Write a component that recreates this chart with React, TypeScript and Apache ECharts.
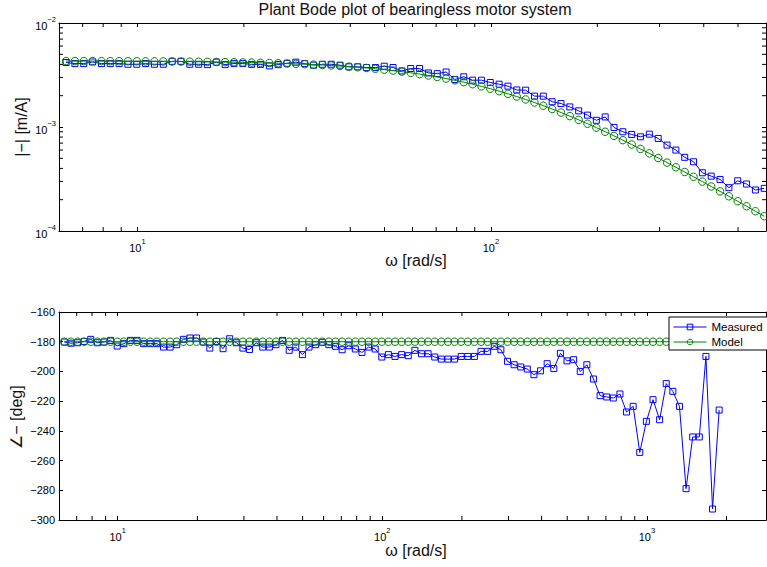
import React, { useEffect, useRef } from 'react';
import * as echarts from 'echarts';

// Frequency points [rad/s]
const omega = [
  6.283, 6.656, 7.05, 7.468, 7.91, 8.379, 8.875, 9.401, 9.958, 10.548,
  11.173, 11.835, 12.537, 13.28, 14.066, 14.9, 15.783, 16.718, 17.709, 18.758,
  19.869, 21.047, 22.293, 23.615, 25.014, 26.496, 28.066, 29.729, 31.491, 33.356,
  35.333, 37.427, 39.645, 41.993, 44.482, 47.117, 49.909, 52.867, 55.999, 59.317,
  62.832, 66.56, 70.5, 74.68, 79.1, 83.79, 88.75, 94.01, 99.58, 105.48,
  111.73, 118.35, 125.37, 132.8, 140.66, 149.0, 157.83, 167.18, 177.09, 187.58,
  198.69, 210.47, 222.93, 236.15, 250.14, 264.96, 280.66, 297.29, 314.91, 333.56,
  353.33, 374.27, 396.45, 419.93, 444.82, 471.17, 499.09, 528.67, 559.99, 593.17,
  628.3, 665.6, 705.0, 746.8, 791.0, 837.9, 887.5, 940.1, 995.8, 1054.8,
  1117.3, 1183.5, 1253.7, 1328.0, 1406.6, 1490.0, 1578.3, 1671.8, 1770.9, 1875.8,
];

// Magnitude [m/A]
const measuredMag = [
  0.00417, 0.00407, 0.00407, 0.00422, 0.00407, 0.00407, 0.00407, 0.00401, 0.00401, 0.00407,
  0.00401, 0.00401, 0.00428, 0.00428, 0.00401, 0.00401, 0.00398, 0.0042, 0.00398, 0.00407,
  0.00407, 0.004, 0.004, 0.00387, 0.00398, 0.0041, 0.0042, 0.00407, 0.00393, 0.00401,
  0.00401, 0.00393, 0.00379, 0.00379, 0.00373, 0.00373, 0.00384, 0.00373, 0.00346, 0.00365,
  0.00365, 0.00331, 0.00326, 0.00338, 0.00286, 0.00304, 0.00282, 0.00282, 0.00268, 0.00258,
  0.00247, 0.00227, 0.00226, 0.00198, 0.00198, 0.00175, 0.00168, 0.00156, 0.00143, 0.0013,
  0.00116, 0.00125, 0.00099, 0.0009, 0.000848, 0.000805, 0.000853, 0.000776, 0.00067, 0.0006,
  0.000511, 0.000463, 0.000363, 0.000337, 0.000313, 0.000261, 0.000304, 0.000283, 0.000248, 0.000257,
];
const modelMag = [
  0.004305, 0.004304, 0.004301, 0.004299, 0.004297, 0.004294, 0.004291, 0.004288, 0.004284, 0.004279,
  0.004274, 0.004269, 0.004263, 0.004256, 0.004248, 0.004239, 0.00423, 0.004219, 0.004207, 0.004193,
  0.004179, 0.004162, 0.004143, 0.004123, 0.0041, 0.004075, 0.004047, 0.004016, 0.003981, 0.003944,
  0.003902, 0.003857, 0.003807, 0.003753, 0.003693, 0.003629, 0.00356, 0.003485, 0.003405, 0.003319,
  0.003227, 0.003131, 0.003029, 0.002923, 0.002812, 0.002697, 0.002578, 0.002458, 0.002335, 0.002211,
  0.002087, 0.001963, 0.00184, 0.00172, 0.001602, 0.001488, 0.001378, 0.001272, 0.001171, 0.001075,
  0.0009852, 0.0009004, 0.0008211, 0.0007473, 0.0006787, 0.0006154, 0.0005571, 0.0005036, 0.0004546, 0.0004099,
  0.0003692, 0.0003321, 0.0002983, 0.000268, 0.0002404, 0.0002156, 0.0001932, 0.0001731, 0.0001549, 0.0001386,
];

// Phase [deg]
const measuredPhase = [
  -180.2, -181, -180.7, -179.8, -178.4, -180.7, -180.2, -179.1, -182.9, -181.3,
  -179.1, -179.1, -181.3, -181.3, -181.3, -183.6, -183.6, -182, -178.4, -177.5,
  -177.5, -180.2, -184.3, -179.8, -184.7, -178, -180.7, -184.3, -185.2, -180.7,
  -183.6, -183.6, -182, -179.1, -185.8, -183.6, -188.7, -183.6, -182, -180.4,
  -182, -183.1, -185.4, -182.7, -184.9, -187.2, -183.6, -184.9, -190.3, -188.7,
  -189.9, -188.7, -189.4, -185.8, -188.1, -188.1, -190.3, -191.7, -191.7, -191.7,
  -189.9, -189.9, -189.9, -186.5, -186.5, -183.1, -185.4, -193.2, -195.5, -197,
  -198.4, -202.2, -199.6, -194.8, -198, -187.8, -192.9, -192.1, -200, -195.5,
  -205.1, -216.3, -217.2, -217.9, -215.2, -227.3, -223.5, -254.5, -233.6, -219,
  -232.5, -208.2, -213.4, -223.5, -278.9, -244.1, -244.1, -189.9, -292.6, -226,
];
const modelPhase = [
  -180, -180, -180, -180, -180, -180, -180, -180, -180, -180,
  -180, -180, -180, -180, -180, -180, -180, -180, -180, -180,
  -180, -180, -180, -180, -180, -180, -180, -180, -180, -180,
  -180, -180, -180, -180, -180, -180, -180, -180, -180, -180,
  -180, -180, -180, -180, -180, -180, -180, -180, -180, -180,
  -180, -180, -180, -180, -180, -180, -180, -180, -180, -180,
  -180, -180, -180, -180, -180, -180, -180, -180, -180, -180,
  -180, -180, -180, -180, -180, -180, -180, -180, -180, -180,
  -180, -180, -180, -180, -180, -180, -180, -180, -180, -180,
  -180, -180, -180, -180, -180, -180, -180, -180, -180, -180,
];

// Minor tick positions
const xMinorTop = [7, 8, 9, 20, 30, 40, 50, 60, 70, 80, 90, 200, 300, 400, 500];
const xMinorBottom = [7, 8, 9, 20, 30, 40, 50, 60, 70, 80, 90, 200, 300, 400, 500, 600, 700, 800, 900, 2000];
const yMinorTop = [0.0002, 0.0003, 0.0004, 0.0005, 0.0006, 0.0007, 0.0008, 0.0009, 0.002, 0.003, 0.004, 0.005, 0.006, 0.007, 0.008, 0.009];

const TITLE = 'Plant Bode plot of bearingless motor system';
const FONT = '"Liberation Sans", Arial, Helvetica, sans-serif';
const TICK = 4;
const BLACK = '#000';

const logLabel = (v: number) => {
  const e = Math.log10(v);
  const r = Math.round(e);
  if (Math.abs(e - r) > 1e-6) return '';
  return `{b|10}{s|${r < 0 ? '\u2212' + -r : r}}`;
};
const logRich = {
  b: { fontSize: 11, fontFamily: FONT, color: BLACK, lineHeight: 16, verticalAlign: 'bottom' },
  s: { fontSize: 7.5, fontFamily: FONT, color: BLACK, lineHeight: 8, verticalAlign: 'top' },
};

const axisBase = (extra: any) => ({
  axisLine: { show: true, onZero: false, lineStyle: { color: BLACK, width: 1 } },
  axisTick: { show: true, inside: true, length: TICK, lineStyle: { color: BLACK, width: 1 } },
  splitLine: { show: false },
  minorTick: { show: false },
  ...extra,
});

const xTickRender = (params: any, api: any) => {
  const cs = params.coordSys;
  const x = api.coord([api.value(0), api.value(1)])[0];
  const st = { stroke: BLACK, lineWidth: 1 };
  return {
    type: 'group',
    children: [
      { type: 'line', shape: { x1: x, y1: cs.y + cs.height, x2: x, y2: cs.y + cs.height - TICK }, style: st },
      { type: 'line', shape: { x1: x, y1: cs.y, x2: x, y2: cs.y + TICK }, style: st },
    ],
  };
};
const yTickRender = (params: any, api: any) => {
  const cs = params.coordSys;
  const y = api.coord([api.value(0), api.value(1)])[1];
  const st = { stroke: BLACK, lineWidth: 1 };
  return {
    type: 'group',
    children: [
      { type: 'line', shape: { x1: cs.x, y1: y, x2: cs.x + TICK, y2: y }, style: st },
      { type: 'line', shape: { x1: cs.x + cs.width, y1: y, x2: cs.x + cs.width - TICK, y2: y }, style: st },
    ],
  };
};

const measuredStyle = {
  type: 'line' as const,
  name: 'Measured',
  symbol: 'rect',
  symbolSize: 6,
  showSymbol: true,
  lineStyle: { color: '#0000ff', width: 1 },
  itemStyle: { color: 'rgba(0,0,0,0)', borderColor: '#0000ff', borderWidth: 1 },
  emphasis: { disabled: true },
  z: 3,
};
const modelStyle = {
  type: 'line' as const,
  name: 'Model',
  symbol: 'circle',
  symbolSize: 7.5,
  showSymbol: true,
  lineStyle: { color: '#008000', width: 1 },
  itemStyle: { color: 'rgba(0,0,0,0)', borderColor: '#008000', borderWidth: 1 },
  emphasis: { disabled: true },
  z: 4,
};

export default function App() {
  const ref = useRef<HTMLDivElement>(null);
  useEffect(() => {
    if (!ref.current) return;
    const chart = echarts.init(ref.current, null, { renderer: 'svg' });
    const option: any = {
      animation: false,
      backgroundColor: '#fff',
      textStyle: { fontFamily: FONT },
      grid: [
        { left: 59, top: 23, width: 707, height: 208, outerBoundsMode: 'none', containLabel: false },
        { left: 59, top: 312, width: 707, height: 208, outerBoundsMode: 'none', containLabel: false },
      ],
      xAxis: [
        axisBase({
          type: 'log', logBase: 10, gridIndex: 0, position: 'bottom', min: 6, max: 600,
          axisLabel: { formatter: logLabel, rich: logRich, margin: 6 },
        }),
        axisBase({
          type: 'log', logBase: 10, gridIndex: 0, position: 'top', min: 6, max: 600,
          axisLabel: { show: false },
        }),
        axisBase({
          type: 'log', logBase: 10, gridIndex: 1, position: 'bottom', min: 6, max: 2820,
          axisLabel: { formatter: logLabel, rich: logRich, margin: 6 },
        }),
        axisBase({
          type: 'log', logBase: 10, gridIndex: 1, position: 'top', min: 6, max: 2820,
          axisLabel: { show: false },
        }),
      ],
      yAxis: [
        axisBase({
          type: 'log', logBase: 10, gridIndex: 0, position: 'left', min: 0.0001, max: 0.01,
          axisLabel: { formatter: logLabel, rich: logRich, margin: 3 },
        }),
        axisBase({
          type: 'log', logBase: 10, gridIndex: 0, position: 'right', min: 0.0001, max: 0.01,
          axisLabel: { show: false },
        }),
        axisBase({
          type: 'value', gridIndex: 1, position: 'left', min: -300, max: -160, interval: 20,
          axisLabel: {
            formatter: (v: number) => (v < 0 ? '\u2212' + -v : String(v)),
            fontSize: 11, fontFamily: FONT, color: BLACK, margin: 4,
          },
        }),
        axisBase({
          type: 'value', gridIndex: 1, position: 'right', min: -300, max: -160, interval: 20,
          axisLabel: { show: false },
        }),
      ],
      legend: {
        data: [{ name: 'Measured' }, { name: 'Model' }],
        orient: 'vertical',
        left: 669,
        top: 317,
        padding: [3, 8, 1, 4],
        itemGap: 1,
        itemWidth: 33,
        itemHeight: 7,
        backgroundColor: '#fff',
        borderColor: BLACK,
        borderWidth: 1,
        borderRadius: 0,
        selectedMode: false,
        lineStyle: { width: 1 },
        itemStyle: { color: 'rgba(0,0,0,0)', borderWidth: 1 },
        textStyle: { fontSize: 11.5, fontFamily: FONT, color: BLACK, lineHeight: 14 },
        z: 10,
      },
      graphic: [
        {
          type: 'text', x: 415, y: 9,
          style: { text: TITLE, fontSize: 16, fontFamily: FONT, fill: '#111', textAlign: 'center', textVerticalAlign: 'middle' },
        },
        {
          type: 'text', x: 21, y: 127, rotation: Math.PI / 2,
          style: { text: '|\u2212| [m/A]', fontSize: 16, fontFamily: FONT, fill: '#111', textAlign: 'center', textVerticalAlign: 'middle' },
        },
        {
          type: 'text', x: 416, y: 260.5,
          style: { text: '\u03c9 [rad/s]', fontSize: 16, fontFamily: FONT, fill: '#111', textAlign: 'center', textVerticalAlign: 'middle' },
        },
        {
          type: 'text', x: 16, y: 417, rotation: Math.PI / 2,
          style: { text: '\u2220\u2212 [deg]', fontSize: 16, fontFamily: FONT, fill: '#111', textAlign: 'center', textVerticalAlign: 'middle' },
        },
        {
          type: 'text', x: 416, y: 550.5,
          style: { text: '\u03c9 [rad/s]', fontSize: 16, fontFamily: FONT, fill: '#111', textAlign: 'center', textVerticalAlign: 'middle' },
        },
      ],
      series: [
        {
          ...measuredStyle, xAxisIndex: 0, yAxisIndex: 0,
          data: measuredMag.map((v, i) => [omega[i], v]),
        },
        {
          ...modelStyle, xAxisIndex: 0, yAxisIndex: 0,
          data: modelMag.map((v, i) => [omega[i], v]),
        },
        {
          ...measuredStyle, xAxisIndex: 2, yAxisIndex: 2,
          data: measuredPhase.map((v, i) => [omega[i], v]),
        },
        {
          ...modelStyle, xAxisIndex: 2, yAxisIndex: 2,
          data: modelPhase.map((v, i) => [omega[i], v]),
        },
        {
          type: 'custom', name: 'xMinorTop', xAxisIndex: 0, yAxisIndex: 0, silent: true, clip: false, z: 5,
          data: xMinorTop.map((v) => [v, 0.001]), renderItem: xTickRender,
        },
        {
          type: 'custom', name: 'yMinorTop', xAxisIndex: 0, yAxisIndex: 0, silent: true, clip: false, z: 5,
          data: yMinorTop.map((v) => [100, v]), renderItem: yTickRender,
        },
        {
          type: 'custom', name: 'xMinorBottom', xAxisIndex: 2, yAxisIndex: 2, silent: true, clip: false, z: 5,
          data: xMinorBottom.map((v) => [v, -200]), renderItem: xTickRender,
        },
      ],
    };
    chart.setOption(option);
    return () => chart.dispose();
  }, []);
  return (
    <div
      ref={ref}
      style={{ position: 'fixed', left: 0, top: 0, width: 767, height: 567, background: '#fff' }}
    />
  );
}
